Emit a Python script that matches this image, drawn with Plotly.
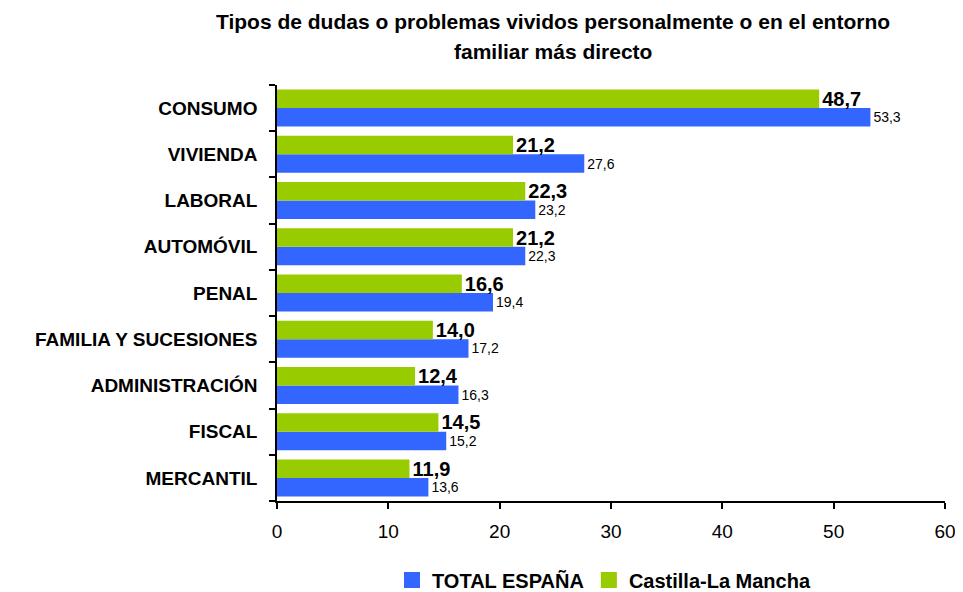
import plotly.graph_objects as go

categories = ["CONSUMO", "VIVIENDA", "LABORAL", "AUTOMÓVIL", "PENAL",
              "FAMILIA Y SUCESIONES", "ADMINISTRACIÓN", "FISCAL", "MERCANTIL"]
total_espana = [53.3, 27.6, 23.2, 22.3, 19.4, 17.2, 16.3, 15.2, 13.6]
castilla = [48.7, 21.2, 22.3, 21.2, 16.6, 14.0, 12.4, 14.5, 11.9]
x_ticks = [0, 10, 20, 30, 40, 50, 60]
series_names = ["TOTAL ESPAÑA", "Castilla-La Mancha"]
series_colors = ["#3366FF", "#99CC00"]

def fmt(v):
    return f"{v:.1f}".replace(".", ",")

FONT = "Arial, Liberation Sans, sans-serif"

# page body has an 8px margin; the figure is sized to fit inside the window
W, H = 955, 584
L, R, T, B = 269, 18, 77, 91
PW, PH = W - L - R, H - T - B

fig = go.Figure()
fig.add_trace(go.Bar(
    y=categories, x=total_espana, orientation="h", name=series_names[0],
    marker=dict(color=series_colors[0], line=dict(width=0)),
    text=[fmt(v) for v in total_espana], textposition="outside",
    constraintext="none",
    textfont=dict(family=FONT, size=14, color="black"),
    cliponaxis=False, showlegend=False,
))
fig.add_trace(go.Bar(
    y=categories, x=castilla, orientation="h", name=series_names[1],
    marker=dict(color=series_colors[1], line=dict(width=0)),
    text=[f"<b>{fmt(v)}</b>" for v in castilla], textposition="outside",
    constraintext="none",
    textfont=dict(family=FONT, size=20, color="black"),
    cliponaxis=False, showlegend=False,
))
# legend entries with square symbols
for name, color in zip(series_names, series_colors):
    fig.add_trace(go.Scatter(
        x=[None], y=[None], mode="markers", name=name,
        marker=dict(symbol="square", size=16, color=color),
        showlegend=True,
    ))

fig.update_layout(
    width=W, height=H,
    paper_bgcolor="white", plot_bgcolor="white",
    margin=dict(l=L, r=R, t=T, b=B),
    barmode="group", bargap=0.2, bargroupgap=0,
    font=dict(family=FONT, color="black"),
    showlegend=True,
    legend=dict(orientation="h", x=384 / W, xanchor="left", xref="container",
                y=(H - 572) / H, yref="container", yanchor="middle",
                font=dict(size=20, color="black", family=FONT, weight="bold"),
                itemwidth=30, traceorder="normal", tracegroupgap=0,
                bgcolor="rgba(0,0,0,0)"),
)
fig.add_annotation(text="<b>Tipos de dudas o problemas vividos personalmente o en el entorno</b>",
                   xref="paper", yref="paper", x=(545 - L) / PW, y=1 + (T - 13) / PH,
                   showarrow=False, font=dict(size=21), xanchor="center", yanchor="middle")
fig.add_annotation(text="<b>familiar más directo</b>",
                   xref="paper", yref="paper", x=(545 - L) / PW, y=1 + (T - 44) / PH,
                   showarrow=False, font=dict(size=21), xanchor="center", yanchor="middle")

fig.update_xaxes(range=[0, 60], tickvals=x_ticks, showgrid=False, zeroline=False,
                 showline=True, linecolor="black", linewidth=1.5, automargin=False,
                 ticks="outside", ticklen=6, tickcolor="black", tickwidth=1.5,
                 ticklabelstandoff=6,
                 tickfont=dict(size=19, color="black", family=FONT))
fig.update_yaxes(categoryorder="array", categoryarray=categories[::-1],
                 showgrid=False, showline=True, linecolor="black", linewidth=1.5,
                 automargin=False,
                 ticks="outside", ticklen=6, tickcolor="black", tickwidth=1.5,
                 tickson="boundaries", ticklabelstandoff=14,
                 tickfont=dict(size=19, color="black", family=FONT, weight="bold"))

fig.write_html("out.html")
